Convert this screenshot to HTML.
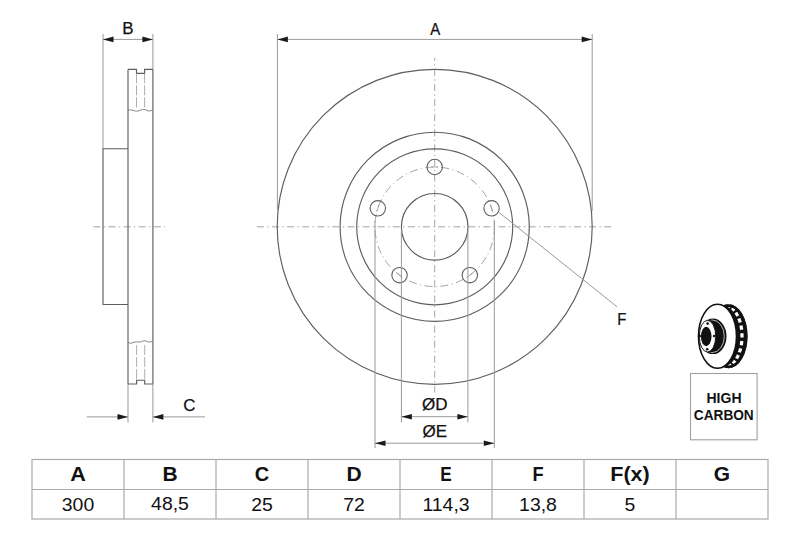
<!DOCTYPE html>
<html><head><meta charset="utf-8">
<style>
html,body{margin:0;padding:0;background:#fff;}
body{width:800px;height:533px;overflow:hidden;}
svg{display:block;}
.cl{stroke:#a5a5a5;stroke-width:1;stroke-dasharray:7 3.35 1.4 3.35;fill:none;}
.ob{stroke:#5e5e5e;stroke-width:1.15;fill:none;}
.bh{stroke:#5e5e5e;stroke-width:1.1;fill:none;}
.pcd{stroke:#999;stroke-width:0.9;stroke-dasharray:8 3.4 1.2 3.4;fill:none;}
.tk{stroke:#999;stroke-width:0.8;}
.ex{stroke:#999;stroke-width:1;}
.dm{stroke:#9a9a9a;stroke-width:1;}
.vd{stroke:#999;stroke-width:0.8;stroke-dasharray:10 2;}
.br{stroke:#777;stroke-width:0.9;fill:none;}
.ar{fill:#1a1a1a;}
.bx{stroke:#a0a0a0;stroke-width:1.1;fill:none;}
.tb{stroke:#aaa;stroke-width:1.2;fill:none;}
text{font-family:"Liberation Sans",sans-serif;fill:#111;}
.lb{font-size:17px;stroke:#111;stroke-width:0.25;}
.hc{font-size:14px;font-weight:bold;}
.th{font-size:20px;font-weight:bold;}
.td{font-size:18px;}
</style></head><body>
<svg width="800" height="533" viewBox="0 0 800 533">
<line x1="256.9" y1="226.8" x2="612" y2="226.8" class="cl"/>
<line x1="434.7" y1="58" x2="434.7" y2="392.6" class="cl" stroke-dashoffset="4.2"/>
<line x1="93.4" y1="226.8" x2="165" y2="226.8" class="cl"/>
<circle cx="434.7" cy="226.8" r="157.5" class="ob"/>
<circle cx="434.7" cy="226.8" r="94.6" class="ob"/>
<circle cx="434.7" cy="226.8" r="78.0" class="ob"/>
<circle cx="434.7" cy="226.8" r="33.3" class="ob"/>
<circle cx="434.7" cy="226.8" r="59.8" class="pcd"/>
<circle cx="434.70" cy="167.00" r="7.7" class="bh"/>
<line x1="431.20" y1="167.00" x2="438.20" y2="167.00" class="tk"/>
<circle cx="491.57" cy="208.32" r="7.7" class="bh"/>
<line x1="490.49" y1="204.99" x2="492.65" y2="211.65" class="tk"/>
<circle cx="469.85" cy="275.18" r="7.7" class="bh"/>
<line x1="472.68" y1="273.12" x2="467.02" y2="277.24" class="tk"/>
<circle cx="399.55" cy="275.18" r="7.7" class="bh"/>
<line x1="402.38" y1="277.24" x2="396.72" y2="273.12" class="tk"/>
<circle cx="377.83" cy="208.32" r="7.7" class="bh"/>
<line x1="376.75" y1="211.65" x2="378.91" y2="204.99" class="tk"/>
<line x1="277.4" y1="34" x2="277.4" y2="210" class="ex"/>
<line x1="592.2" y1="34" x2="592.2" y2="211" class="ex"/>
<line x1="277.4" y1="39.4" x2="592.2" y2="39.4" class="dm"/>
<polygon points="277.40,39.40 287.90,36.60 287.90,42.20" class="ar"/>
<polygon points="592.20,39.40 581.70,42.20 581.70,36.60" class="ar"/>
<text transform="translate(435.2,34.8) scale(0.88,1)" class="lb" text-anchor="middle">A</text>
<line x1="103" y1="34" x2="103" y2="148.7" class="ex"/>
<line x1="152.9" y1="34" x2="152.9" y2="69.4" class="ex"/>
<line x1="152.9" y1="69.4" x2="152.9" y2="384" class="ob"/>
<line x1="152.9" y1="384" x2="152.9" y2="422.5" class="ex"/>
<line x1="103" y1="39.4" x2="152.9" y2="39.4" class="dm"/>
<polygon points="103.00,39.40 113.50,36.60 113.50,42.20" class="ar"/>
<polygon points="152.90,39.40 142.40,42.20 142.40,36.60" class="ar"/>
<text x="128" y="34.2" class="lb" text-anchor="middle">B</text>
<line x1="128" y1="69.4" x2="128" y2="384" class="ob"/>
<line x1="128" y1="384" x2="128" y2="422.5" class="ex"/>
<polyline points="128,69.4 136.5,69.4 136.5,73.3 144.6,73.3 144.6,69.4 152.9,69.4" class="ob" fill="none"/>
<line x1="136.5" y1="73.3" x2="136.5" y2="108" class="vd"/>
<line x1="144.6" y1="73.3" x2="144.6" y2="108" class="vd"/>
<path d="M128,110.5 C132,108.5 134,112 138,111 S143,108.5 146,110 S150,111 152.9,110" class="br"/>
<polyline points="128,148.7 103,148.7 103,304.5 128,304.5" class="ob" fill="none"/>
<path d="M128,342.5 C132,344.5 134,341 138,342 S143,339.5 146,341 S150,342 152.9,341.5" class="br"/>
<line x1="136.6" y1="345" x2="136.6" y2="380.2" class="vd"/>
<line x1="144.7" y1="345" x2="144.7" y2="380.2" class="vd"/>
<polyline points="128,384 136.6,384 136.6,380.2 144.7,380.2 144.7,384 152.9,384" class="ob" fill="none"/>
<line x1="86.7" y1="416.9" x2="128" y2="416.9" class="dm"/>
<line x1="152.9" y1="416.9" x2="205" y2="416.9" class="dm"/>
<polygon points="128.00,416.90 117.50,419.70 117.50,414.10" class="ar"/>
<polygon points="152.90,416.90 163.40,414.10 163.40,419.70" class="ar"/>
<text x="189.3" y="411" class="lb" text-anchor="middle">C</text>
<line x1="401.4" y1="230.5" x2="401.4" y2="422.5" class="ex"/>
<line x1="467.9" y1="230.5" x2="467.9" y2="422.5" class="ex"/>
<line x1="401.4" y1="416.7" x2="467.9" y2="416.7" class="dm"/>
<polygon points="401.40,416.70 411.90,413.90 411.90,419.50" class="ar"/>
<polygon points="467.90,416.70 457.40,419.50 457.40,413.90" class="ar"/>
<text x="434.8" y="410.3" class="lb" text-anchor="middle">ØD</text>
<line x1="375" y1="221" x2="375" y2="448" class="ex"/>
<line x1="494.3" y1="221" x2="494.3" y2="448" class="ex"/>
<line x1="375" y1="443.2" x2="494.3" y2="443.2" class="dm"/>
<polygon points="375.00,443.20 385.50,440.40 385.50,446.00" class="ar"/>
<polygon points="494.30,443.20 483.80,446.00 483.80,440.40" class="ar"/>
<text x="434.8" y="437" class="lb" text-anchor="middle">ØE</text>
<line x1="498.7" y1="212.2" x2="617.1" y2="306.8" class="dm"/>
<text transform="translate(617.3,325.4) scale(0.88,1)" class="lb">F</text>
<rect x="690.5" y="373.5" width="66.6" height="66.3" class="bx"/>
<text x="724" y="402.8" class="hc" text-anchor="middle">HIGH</text>
<text transform="translate(723.8,420.2) scale(0.975,1)" class="hc" text-anchor="middle">CARBON</text>
<ellipse cx="728.5" cy="336.2" rx="19" ry="32" fill="#111"/>
<rect x="-1.64" y="-1.6" width="3.29" height="3.2" fill="#fff" transform="translate(729.19,305.94) rotate(30.1)"/>
<rect x="-1.81" y="-1.6" width="3.61" height="3.2" fill="#fff" transform="translate(733.32,309.33) rotate(47.5)"/>
<rect x="-1.95" y="-1.6" width="3.89" height="3.2" fill="#fff" transform="translate(736.85,314.29) rotate(60.9)"/>
<rect x="-2.05" y="-1.6" width="4.11" height="3.2" fill="#fff" transform="translate(739.57,320.54) rotate(71.6)"/>
<rect x="-2.12" y="-1.6" width="4.25" height="3.2" fill="#fff" transform="translate(741.32,327.70) rotate(80.7)"/>
<rect x="-2.15" y="-1.6" width="4.30" height="3.2" fill="#fff" transform="translate(741.99,335.36) rotate(89.1)"/>
<rect x="-2.13" y="-1.6" width="4.27" height="3.2" fill="#fff" transform="translate(741.56,343.07) rotate(97.4)"/>
<rect x="-2.07" y="-1.6" width="4.14" height="3.2" fill="#fff" transform="translate(740.03,350.38) rotate(106.4)"/>
<rect x="-1.97" y="-1.6" width="3.95" height="3.2" fill="#fff" transform="translate(737.51,356.85) rotate(116.6)"/>
<rect x="-1.84" y="-1.6" width="3.68" height="3.2" fill="#fff" transform="translate(734.14,362.12) rotate(129.4)"/>
<rect x="-1.68" y="-1.6" width="3.36" height="3.2" fill="#fff" transform="translate(730.12,365.87) rotate(145.8)"/>
<ellipse cx="728.5" cy="336.2" rx="17.6" ry="30.6" fill="none" stroke="#111" stroke-width="2.8"/>
<ellipse cx="717.5" cy="336.2" rx="19" ry="32" fill="#fff" stroke="#111" stroke-width="1.6"/>
<ellipse cx="713" cy="336.3" rx="13.5" ry="17.8" fill="#111"/>
<ellipse cx="712.3" cy="336.3" rx="12" ry="16.3" fill="none" stroke="#fff" stroke-width="0.7"/>
<ellipse cx="709" cy="336.3" rx="10" ry="16.3" fill="#111"/>
<ellipse cx="707.5" cy="336.2" rx="8.2" ry="15.8" fill="#fff" stroke="#111" stroke-width="0.9"/>
<ellipse cx="706.2" cy="336.5" rx="5.3" ry="9.7" fill="#111"/>
<circle cx="707.6" cy="323.6" r="1.3" fill="#111"/>
<circle cx="714.2" cy="336" r="1.3" fill="#111"/>
<circle cx="707.2" cy="349.2" r="1.3" fill="#111"/>
<circle cx="699.8" cy="336" r="1.3" fill="#111"/>
<rect x="32" y="459.5" width="736" height="59.5" class="tb"/>
<line x1="32" y1="489.5" x2="768" y2="489.5" class="tb"/>
<text transform="translate(78,480.8) scale(1.08,1)" class="th" text-anchor="middle">A</text>
<text transform="translate(78,510.6) scale(1.08,1)" class="td" text-anchor="middle">300</text>
<line x1="124" y1="459.5" x2="124" y2="519" class="tb"/>
<text transform="translate(170,480.8) scale(1.05,1)" class="th" text-anchor="middle">B</text>
<text transform="translate(170,509.6) scale(1.08,1)" class="td" text-anchor="middle">48,5</text>
<line x1="216" y1="459.5" x2="216" y2="519" class="tb"/>
<text transform="translate(262,480.8) scale(1.0,1)" class="th" text-anchor="middle">C</text>
<text transform="translate(262,510.6) scale(1.08,1)" class="td" text-anchor="middle">25</text>
<line x1="308" y1="459.5" x2="308" y2="519" class="tb"/>
<text transform="translate(354,480.8) scale(1.05,1)" class="th" text-anchor="middle">D</text>
<text transform="translate(354,510.6) scale(1.08,1)" class="td" text-anchor="middle">72</text>
<line x1="400" y1="459.5" x2="400" y2="519" class="tb"/>
<text transform="translate(446,480.8) scale(0.86,1)" class="th" text-anchor="middle">E</text>
<text transform="translate(446,510.6) scale(1.08,1)" class="td" text-anchor="middle">114,3</text>
<line x1="492" y1="459.5" x2="492" y2="519" class="tb"/>
<text transform="translate(538,480.8) scale(0.91,1)" class="th" text-anchor="middle">F</text>
<text transform="translate(538,510.6) scale(1.08,1)" class="td" text-anchor="middle">13,8</text>
<line x1="584" y1="459.5" x2="584" y2="519" class="tb"/>
<text transform="translate(630,480.8) scale(1.08,1)" class="th" text-anchor="middle">F(x)</text>
<text transform="translate(630,510.6) scale(1.08,1)" class="td" text-anchor="middle">5</text>
<line x1="676" y1="459.5" x2="676" y2="519" class="tb"/>
<text transform="translate(722,480.8) scale(1.05,1)" class="th" text-anchor="middle">G</text>
<text transform="translate(722,510.6) scale(1.08,1)" class="td" text-anchor="middle"></text>
</svg>
</body></html>
